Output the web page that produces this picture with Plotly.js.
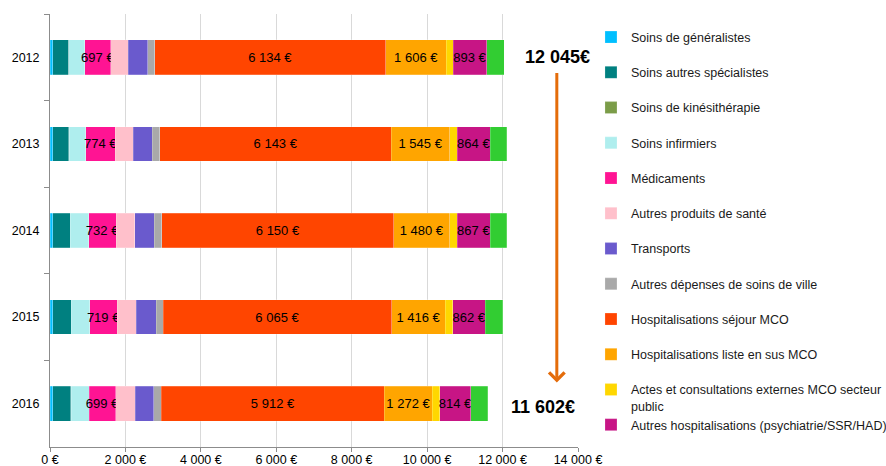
<!DOCTYPE html>
<html>
<head>
<meta charset="utf-8">
<script src="https://cdn.plot.ly/plotly-3.0.1.min.js"></script>
<style>html,body{margin:0;padding:0;background:#fff;}#chart{width:886px;height:466px;}</style>
</head>
<body>
<div id="chart"></div>
<script>
// ---- data ----
const years = ['2012', '2013', '2014', '2015', '2016'];
const generalistes   = [70, 72, 72, 72, 72];
const specialistes   = [424, 424, 459, 485, 478];
const kinesitherapie = [8, 8, 8, 8, 8];
const infirmiers     = [415, 450, 487, 495, 482];
const medicaments    = [697, 774, 732, 719, 699];
const autresProduits = [459, 477, 494, 503, 521];
const transports     = [522, 503, 512, 530, 492];
const autresVille    = [177, 203, 203, 185, 203];
const sejourMCO      = [6134, 6143, 6150, 6065, 5912];
const listeEnSus     = [1606, 1545, 1480, 1416, 1272];
const actesExternes  = [175, 204, 205, 203, 201];
const autresHosp     = [893, 864, 867, 862, 814];
const autres         = [469, 445, 440, 455, 448];
const totalFirst = 12045;
const totalLast = 11602;
const xTickVals = [0, 2000, 4000, 6000, 8000, 10000, 12000, 14000];
const xTickText = ['0 €', '2 000 €', '4 000 €', '6 000 €', '8 000 €', '10 000 €', '12 000 €', '14 000 €'];

const FONT = 'Liberation Sans, Arial, sans-serif';
function fmt(v) { return String(v).replace(/\B(?=(\d{3})+(?!\d))/g, ' '); }

const series = [
  {name: 'Soins de généralistes', y: generalistes, color: '#00BFFF'},
  {name: 'Soins autres spécialistes', y: specialistes, color: '#008080'},
  {name: 'Soins de kinésithérapie', y: kinesitherapie, color: '#7B9C48'},
  {name: 'Soins infirmiers', y: infirmiers, color: '#AFEEEE'},
  {name: 'Médicaments', y: medicaments, color: '#FF1493', label: true},
  {name: 'Autres produits de santé', y: autresProduits, color: '#FFC0CB'},
  {name: 'Transports', y: transports, color: '#6A5ACD'},
  {name: 'Autres dépenses de soins de ville', y: autresVille, color: '#A9A9A9'},
  {name: 'Hospitalisations séjour MCO', y: sejourMCO, color: '#FF4500', label: true},
  {name: 'Hospitalisations liste en sus MCO', y: listeEnSus, color: '#FFA500', label: true},
  {name: 'Actes et consultations externes MCO secteur<br>public', y: actesExternes, color: '#FFD700'},
  {name: 'Autres hospitalisations (psychiatrie/SSR/HAD)', y: autresHosp, color: '#C71585', label: true, legend: 'legend2'},
  {name: 'Autres', y: autres, color: '#32CD32', hide: true}
];

const traces = series.map((s, i) => {
  const t = {
    type: 'bar',
    orientation: 'h',
    name: s.name,
    x: s.y,
    y: years,
    marker: {color: s.color, line: {color: 'rgba(255,255,255,0.35)', width: 0.6}},
    legendgroup: 'g' + i,
    showlegend: !s.hide,
    hoverinfo: 'x+name'
  };
  if (s.legend) t.legend = s.legend;
  if (s.label) {
    t.text = s.y.map(v => fmt(v) + ' €');
    t.textposition = 'inside';
    t.insidetextanchor = 'middle';
    t.textangle = 0;
    t.constraintext = 'none';
    t.textfont = {family: FONT, size: 13, color: '#000'};
    t.cliponaxis = false;
  }
  return t;
});

const pxPerUnit = (578 - 49.5) / 14000;

const layout = {
  width: 886, height: 466,
  margin: {l: 49.5, r: 308, t: 13.5, b: 19, pad: 0, autoexpand: false},
  paper_bgcolor: '#fff', plot_bgcolor: '#fff',
  font: {family: FONT, size: 12.5, color: '#000'},
  barmode: 'stack',
  bargap: 0.6,
  showlegend: true,
  xaxis: {
    range: [0, 14000], autorange: false, tickvals: xTickVals, ticktext: xTickText,
    showgrid: true, gridcolor: '#D9D9D9', gridwidth: 1,
    zeroline: false, showline: true, linecolor: '#8C8C8C', linewidth: 1,
    ticks: 'outside', ticklen: 4, tickcolor: '#8C8C8C',
    ticklabelstandoff: -3,
    tickfont: {family: FONT, size: 12.5, color: '#000'},
    automargin: false, fixedrange: true
  },
  yaxis: {
    type: 'category', categoryorder: 'array', categoryarray: years,
    range: [years.length - 0.5, -0.5], autorange: false,
    showgrid: false, zeroline: false, showline: true, linecolor: '#8C8C8C', linewidth: 1,
    ticks: 'outside', tickson: 'boundaries', ticklen: 5, tickcolor: '#8C8C8C',
    ticklabelstandoff: 7,
    tickfont: {family: FONT, size: 12.5, color: '#000'},
    automargin: false, fixedrange: true
  },
  legend: {
    x: (591 - 49.5) / 528.5, xanchor: 'left',
    y: (447 - 22) / 433.5, yanchor: 'top',
    traceorder: 'grouped', tracegroupgap: 16, valign: 'top',
    font: {family: FONT, size: 12.5, color: '#1a1a1a'},
    bgcolor: 'rgba(0,0,0,0)', borderwidth: 0
  },
  legend2: {
    x: (591 - 49.5) / 528.5, xanchor: 'left',
    y: (447 - 410) / 433.5, yanchor: 'top',
    font: {family: FONT, size: 12.5, color: '#1a1a1a'},
    bgcolor: 'rgba(0,0,0,0)', borderwidth: 0
  },
  annotations: [
    {x: (557 - 49.5) / pxPerUnit, y: 0, xref: 'x', yref: 'y',
     text: fmt(totalFirst) + '€', showarrow: false,
     font: {family: FONT, size: 18, color: '#000', weight: 'bold'}},
    {x: (542.5 - 49.5) / pxPerUnit, y: years.length - 1, xref: 'x', yref: 'y', yshift: -3,
     text: fmt(totalLast) + '€', showarrow: false,
     font: {family: FONT, size: 18, color: '#000', weight: 'bold'}},
    {x: (556.8 - 49.5) / pxPerUnit, y: (447 - 382.5) / 433.5, xref: 'x', yref: 'paper',
     text: '', showarrow: true, arrowhead: 4, arrowsize: 1, arrowwidth: 3,
     arrowcolor: '#E46C0A', ax: 0, ay: -311, standoff: 0}
  ]
};

Plotly.newPlot('chart', traces, layout, {displayModeBar: false, staticPlot: true});
</script>
</body>
</html>
